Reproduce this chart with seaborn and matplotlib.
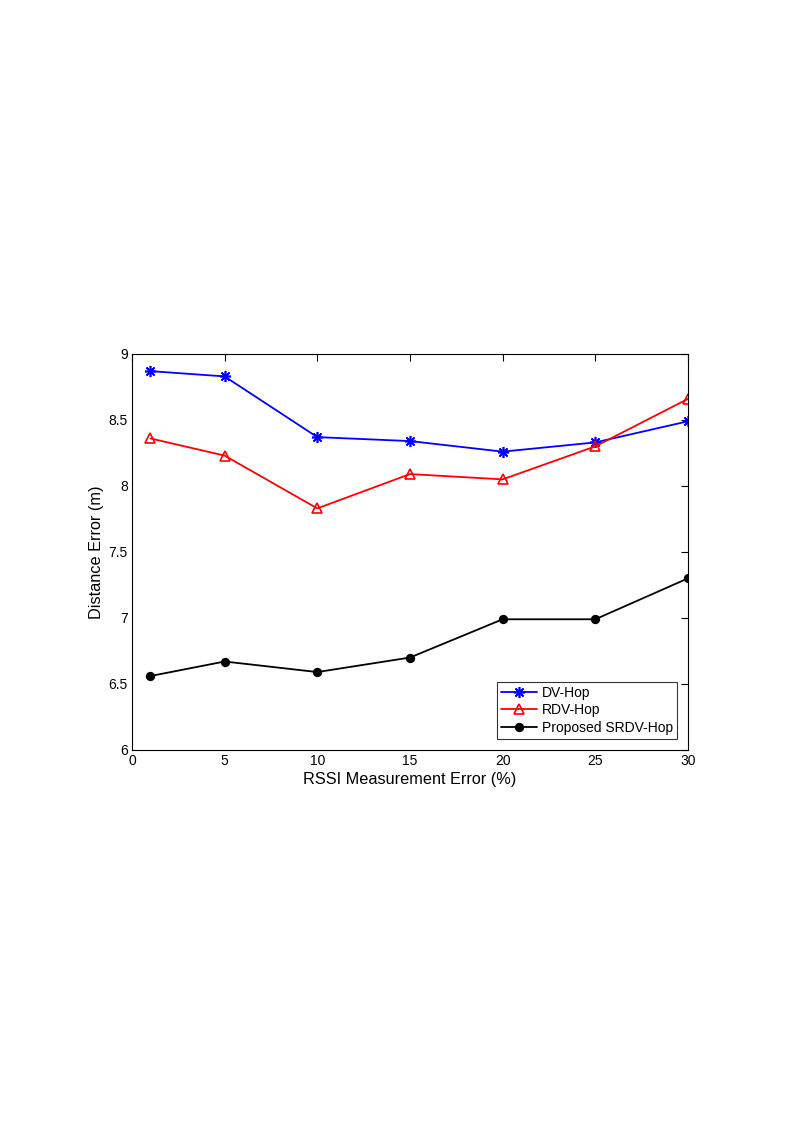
import numpy as np
import pandas as pd
import matplotlib
matplotlib.use("Agg")
import matplotlib.pyplot as plt
import seaborn as sns

# veriler
rssi_hata = [1, 5, 10, 15, 20, 25, 30]
dv_hop = [8.87, 8.83, 8.37, 8.34, 8.26, 8.33, 8.49]
rdv_hop = [8.36, 8.23, 7.83, 8.09, 8.05, 8.30, 8.66]
srdv_hop = [6.56, 6.67, 6.59, 6.70, 6.99, 6.99, 7.30]

sns.set_style("white")
plt.rcParams['font.family'] = ['Liberation Sans', 'DejaVu Sans']
plt.rcParams['text.color'] = "black"
plt.rcParams['axes.labelcolor'] = "black"
plt.rcParams['xtick.color'] = "black"
plt.rcParams['ytick.color'] = "black"

fig = plt.figure(figsize=(7.94, 11.23), dpi=100)
ax = fig.add_axes([0.1662, 0.3322, 0.7003, 0.3526])

# MATLAB tarzi yildiz isareti: 8 kollu asterisk
seriler = [
    ("DV-Hop", dv_hop, "blue", (8, 2, 0), 8, "blue"),
    ("RDV-Hop", rdv_hop, "red", "^", 7.5, "none"),
    ("Proposed SRDV-Hop", srdv_hop, "black", "o", 5.5, "black"),
]
for ad, deger, renk, isaret, boyut, dolgu in seriler:
    veri = pd.DataFrame({"x": rssi_hata, "y": deger})
    sns.lineplot(data=veri, x="x", y="y", ax=ax, color=renk, marker=isaret,
                 markersize=boyut, markerfacecolor=dolgu, markeredgecolor=renk,
                 markeredgewidth=1.2, linewidth=1.3, label=ad)

ax.set_xlim(0, 30)
ax.set_ylim(6, 9)
ax.set_xticks([0, 5, 10, 15, 20, 25, 30])
ax.set_yticks([6, 6.5, 7, 7.5, 8, 8.5, 9])
ax.set_yticklabels(["6", "6.5", "7", "7.5", "8", "8.5", "9"])
ax.tick_params(direction="in", top=True, right=True, length=5, labelsize=10, pad=3,
               colors="black")
for s in ax.spines.values():
    s.set_color("black")
    s.set_linewidth(0.8)

ax.set_xlabel("RSSI Measurement Error (%)", fontsize=11.7, labelpad=3)
ax.set_ylabel("Distance Error (m)", fontsize=11.7, labelpad=3)

leg = ax.legend(loc="lower right", fontsize=10, frameon=True, fancybox=False,
                borderaxespad=0.8, handlelength=2.6, handletextpad=0.3,
                borderpad=0.3, labelspacing=0.25)
leg.get_frame().set_edgecolor("black")
leg.get_frame().set_linewidth(0.8)

fig.savefig("out.png", dpi=100)
